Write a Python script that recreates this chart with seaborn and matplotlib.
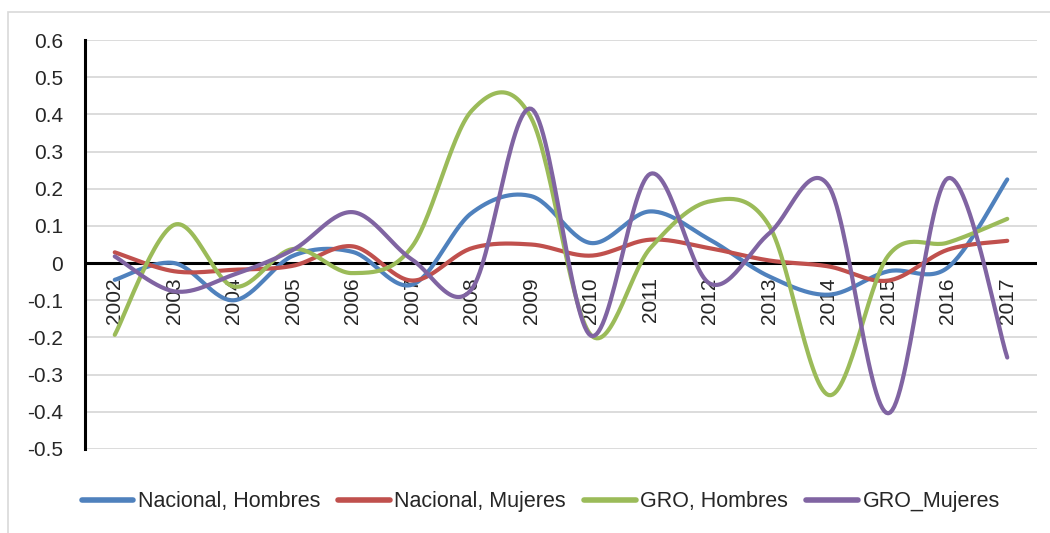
import matplotlib
matplotlib.use("Agg")
import matplotlib.pyplot as plt
import numpy as np
import pandas as pd
import seaborn as sns

# Data
years = [str(y) for y in range(2002, 2018)]
nacional_hombres = [-0.045, 0.0, -0.10, 0.02, 0.03, -0.058, 0.135, 0.18, 0.054,
                    0.139, 0.063, -0.036, -0.085, -0.022, -0.012, 0.225]
nacional_mujeres = [0.029, -0.022, -0.018, -0.007, 0.045, -0.047, 0.04, 0.05, 0.02,
                    0.063, 0.04, 0.007, -0.009, -0.047, 0.036, 0.06]
gro_hombres = [-0.193, 0.103, -0.063, 0.038, -0.027, 0.045, 0.41, 0.39, -0.193,
               0.04, 0.166, 0.10, -0.355, 0.02, 0.055, 0.119]
gro_mujeres = [0.018, -0.076, -0.031, 0.036, 0.137, 0.009, -0.07, 0.415, -0.195,
               0.24, -0.055, 0.08, 0.207, -0.404, 0.228, -0.254]

series_names = ["Nacional, Hombres", "Nacional, Mujeres", "GRO, Hombres", "GRO_Mujeres"]
series_values = [nacional_hombres, nacional_mujeres, gro_hombres, gro_mujeres]
colors = ["#4f81bd", "#c0504d", "#9bbb59", "#8064a2"]


def smooth(values, n=30):
    # Excel-style smoothed line (Catmull-Rom through the points)
    p = np.asarray(values, dtype=float)
    x = np.arange(len(p), dtype=float)
    pts = np.column_stack([x, p])
    ext = np.vstack([pts[0], pts, pts[-1]])
    out = []
    for i in range(1, len(ext) - 2):
        p0, p1, p2, p3 = ext[i - 1], ext[i], ext[i + 1], ext[i + 2]
        c1 = p1 + (p2 - p0) / 6
        c2 = p2 - (p3 - p1) / 6
        t = np.linspace(0, 1, n, endpoint=False)[:, None]
        seg = ((1 - t) ** 3) * p1 + 3 * ((1 - t) ** 2) * t * c1 + 3 * (1 - t) * t ** 2 * c2 + t ** 3 * p2
        out.append(seg)
    out.append(pts[-1][None, :])
    return np.vstack(out)


frames = []
for name, vals in zip(series_names, series_values):
    curve = smooth(vals)
    frames.append(pd.DataFrame({"x": curve[:, 0], "y": curve[:, 1], "serie": name}))
df = pd.concat(frames, ignore_index=True)

sns.set_style("white")
plt.rcParams["font.family"] = ["Liberation Sans", "DejaVu Sans"]

fig = plt.figure(figsize=(10.5, 5.33), dpi=100)
ax = fig.add_axes([85 / 1050, 1 - 449 / 533, (1037 - 85) / 1050, (449 - 40) / 533])

# chart area border
fig.patches.append(plt.Rectangle((8 / 1050, -0.01), 1.05, 1 - 12 / 533 + 0.01,
                                 transform=fig.transFigure, fill=False,
                                 edgecolor="#d9d9d9", linewidth=1.2))

ax.set_ylim(-0.5, 0.6)
ax.set_xlim(-0.5, 15.5)
ax.set_yticks(np.round(np.arange(-0.5, 0.61, 0.1), 1))
ax.set_yticklabels(["-0.5", "-0.4", "-0.3", "-0.2", "-0.1", "0", "0.1", "0.2",
                    "0.3", "0.4", "0.5", "0.6"], fontsize=15)
ax.yaxis.grid(True, color="#d9d9d9", linewidth=1.3)
ax.set_axisbelow(True)
ax.tick_params(axis="y", length=0, pad=16)

for side in ["top", "right", "bottom"]:
    ax.spines[side].set_visible(False)
ax.spines["left"].set_color("black")
ax.spines["left"].set_linewidth(2.2)
ax.axhline(0, color="black", linewidth=2.2, zorder=1)

sns.lineplot(data=df, x="x", y="y", hue="serie", hue_order=series_names,
             palette=colors, sort=False, estimator=None, linewidth=3.0,
             ax=ax, legend=False, zorder=3)

ax.set_xticks([])
ax.set_xlabel("")
ax.set_ylabel("")
for i, yr in enumerate(years):
    ax.text(i, -0.038, yr, rotation=90, ha="center", va="top", fontsize=15, zorder=2)

handles = [plt.Line2D([0], [0], color=c, linewidth=4.0, solid_capstyle="round") for c in colors]
fig.legend(handles, series_names, loc="center", bbox_to_anchor=(0.515, 1 - 502 / 533),
           ncol=4, frameon=False, fontsize=15.5, handlelength=2.4, handletextpad=0.2,
           columnspacing=0.85)

fig.savefig("out.png", dpi=100)
